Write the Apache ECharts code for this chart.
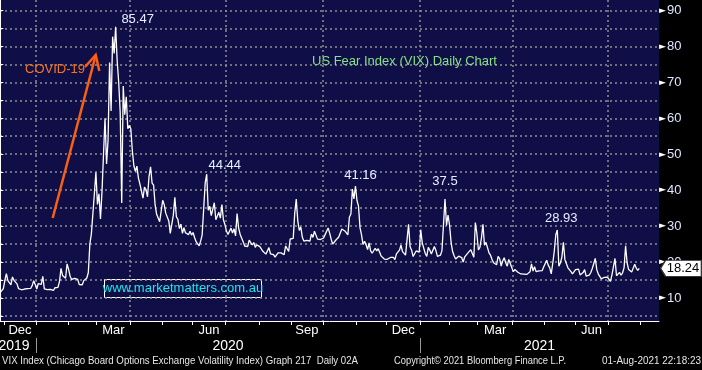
<!DOCTYPE html>
<html><head><meta charset="utf-8">
<script src="https://cdn.jsdelivr.net/npm/echarts@6/dist/echarts.min.js"></script>
<style>html,body{margin:0;padding:0;background:#000;}#c{width:702px;height:370px;}</style>
</head><body><div id="c"></div>
<script>
// ---- VIX daily values (trading days only) ----
const nov2019 = [11.54, 11.75, 12.62];
const dec2019 = [14.91,16.8,14.80,14.52,13.62, 15.86,14.91,14.99,13.94,12.63, 12.14,12.29,12.58,12.50,12.51, 12.61,12.67,12.65,13.43, 14.82,13.78];
const jan2020 = [12.47,14.02, 13.85,13.79,16.0,12.54,12.56, 12.32,12.39,12.42,12.32,12.10, 12.85,12.91,12.98,14.56, 18.23,16.28,16.39,15.49,19.5];
const feb2020 = [17.97,16.05,15.15,14.96,15.47, 15.04,15.18,13.74,14.15,13.68, 14.83,14.38,15.56,17.08, 25.03,27.85,27.56,39.16,45.0];
const mar2020 = [36.0,39.0,32.0,39.6,50.0, 60.0,47.3,53.9,75.5,62.0, 82.7,78.0,85.47,76.0,70.0, 61.6,36.4,69.0,61.0,66.0, 57.1,58.0];
const apr2020 = [57.06,50.91,46.80, 45.24,46.70,43.35,41.67, 41.17,37.76,40.84,40.11,38.15, 43.83,46.5,41.98,41.38,35.93, 33.29,33.57,31.23,34.15];
const may2020 = [37.19, 35.97,33.61,34.12,31.44,27.98, 27.57,33.04,38.0,32.61,31.89, 29.30,30.53,27.99,29.53,28.16, 27.91,27.62,28.59,27.51];
const jun2020 = [28.23,26.84,25.66,25.81,24.52, 25.81,27.57,27.57,42.0,44.44, 34.40,35.5,32.94,33.47,36.5, 31.77,31.37,33.84,32.22,36.0, 31.78,30.43];
const jul2020 = [28.62,27.68, 27.94,29.43,28.08,29.26,27.29, 33.5,29.52,27.76,28.00,25.68, 24.46,24.84,24.32,26.08,25.84, 24.74,25.44,24.10,24.76,24.46];
const aug2020 = [24.28,23.76,22.99,22.65,22.21, 22.13,24.03,22.28,22.13,22.05, 21.35,21.51,22.54,22.72,22.54, 22.37,22.03,24.47,24.47,22.96, 26.41];
const sep2020 = [26.12,26.57,33.60,37.5, 31.46,28.81,29.71,26.87, 25.85,25.59,26.04,26.46,25.83, 27.78,26.86,28.58,28.51,26.38, 26.19,26.27,26.37];
const oct2020 = [26.70,27.63, 27.96,29.48,28.06,26.36,25.00, 25.07,26.07,26.40,26.97,27.41, 29.18,29.35,28.65,28.11,27.55, 32.46,33.35,40.28,37.59,41.16];
const nov2020 = [37.13,35.55,29.57,27.58,24.86, 25.75,24.80,23.45,25.35,23.10, 22.45,22.71,23.84,23.11,23.70, 22.66,21.64,21.25,20.84, 20.57];
const dec2020 = [20.77,21.17,21.28,20.79, 21.30,20.68,22.27,22.52,23.31, 24.72,22.89,22.50,21.93,21.57, 30.5,24.23,23.31,21.53, 21.70,23.08,22.77,22.75];
const jan2021 = [29.0,25.34,25.07,22.37,21.56, 24.08,23.33,22.21,22.65,24.34, 23.24,21.58,21.32,21.91, 23.19,23.02,37.5,30.21,33.09];
const feb2021 = [30.24,25.56,22.91,21.77,20.87, 21.24,21.63,21.99,21.25,19.97, 21.46,21.50,22.49,22.05, 23.45,23.11,21.34,31.0,27.95];
const mar2021 = [23.35,24.10,26.67,30.5,24.66, 25.47,24.03,22.56,21.91,20.69, 19.79,19.79,19.23,21.58,20.95, 18.88,20.30,21.20,19.81,18.86, 20.74,19.61,19.40];
const apr2021 = [17.33, 17.91,18.12,17.16,16.95,16.69, 16.91,16.65,16.99,16.57,16.25, 17.29,19.5,17.50,18.71,17.33, 17.64,17.56,17.28,17.61,18.61];
const may2021 = [18.31,20.5,19.15,18.39,16.69, 19.66,23.0,27.59,28.93,18.81, 19.72,21.34,25.5,20.67,20.15, 18.40,18.84,17.36,16.74,16.76];
const jun2021 = [17.90,17.48,18.04,16.42, 16.42,17.07,17.89,16.10,15.65, 16.39,17.02,18.15,17.75,21.0, 17.89,16.66,16.32,15.3,14.9, 15.76,16.02,15.83];
const jul2021 = [15.48,14.6, 16.44,16.20,21.0,16.18, 16.17,17.12,16.33,17.01,18.45, 24.5,19.73,17.91,17.69,17.20, 17.58,19.36,18.31,17.70,18.24];

const firstDay = '2019-11-26';
const lastDay = '2021-07-30';
const holidays = ['2019-11-28','2019-12-25','2020-01-01','2020-01-20','2020-02-17','2020-04-10','2020-05-25','2020-07-03','2020-09-07','2020-11-26','2020-12-25','2021-01-01','2021-01-18','2021-02-15','2021-04-02','2021-05-31','2021-07-05'];

// labelled highs
const peakDates = ['2020-03-18','2020-06-12','2020-10-30','2021-01-27','2021-05-13'];
const peakValues = [85.47, 44.44, 41.16, 37.5, 28.93];

// axis texts
const yLabels = [10,20,30,40,50,60,70,80,90];
const yTicks = [5,10,15,20,25,30,35,40,45,50,55,60,65,70,75,80,85,90];
const monthNames = ['Jan','Feb','Mar','Apr','May','Jun','Jul','Aug','Sep','Oct','Nov','Dec'];
const labelledMonths = ['2019-12','2020-03','2020-06','2020-09','2020-12','2021-03','2021-06'];
const yearNames = ['2019','2020','2021'];

const title = 'US Fear Index (VIX) Daily Chart';
const covidText = 'COVID-19';
const siteText = 'www.marketmatters.com.au';
const footLeft = 'VIX Index (Chicago Board Options Exchange Volatility Index) Graph 217  Daily 02A';
const footMid = 'Copyright\u00a9 2021 Bloomberg Finance L.P.';
const footRight = '01-Aug-2021 22:18:23';

// ---- build ----
const vix = [].concat(nov2019,dec2019,jan2020,feb2020,mar2020,apr2020,may2020,jun2020,jul2020,aug2020,sep2020,oct2020,nov2020,dec2020,jan2021,feb2021,mar2021,apr2021,may2021,jun2021,jul2021);
const dates = [];
(function(){
  let t = Date.parse(firstDay+'T00:00:00Z'); const end = Date.parse(lastDay+'T00:00:00Z');
  while (t <= end) { const d = new Date(t); const w = d.getUTCDay(); const s = d.toISOString().slice(0,10);
    if (w !== 0 && w !== 6 && holidays.indexOf(s) < 0) dates.push(s); t += 86400000; }
})();
const seriesData = vix.map((v,i)=>[i,v]);

const monthStarts = [];
for (let i=1;i<dates.length;i++){ if (dates[i].slice(0,7)!==dates[i-1].slice(0,7)) monthStarts.push({key:dates[i].slice(0,7), pos:i-0.5}); }
monthStarts.push({key:'2021-08', pos:dates.length-0.5});
const xMin = -0.2, xMax = 434;
const monthTickPos = monthStarts.map(o=>o.pos);
const monthLabelPos = []; const monthLabelText = {};
labelledMonths.forEach(k=>{
  const idx = monthStarts.findIndex(o=>o.key===k);
  const a = monthStarts[idx].pos, b = monthStarts[idx+1].pos;
  const p = +((a+b)/2).toFixed(2);
  monthLabelPos.push(p); monthLabelText[p] = monthNames[+k.slice(5,7)-1];
});
const quarterPos = monthStarts.filter(o=>['01','04','07','10'].indexOf(o.key.slice(5,7))>=0).map(o=>o.pos);
const yearPos = monthStarts.filter(o=>o.key.slice(5,7)==='01').map(o=>o.pos);
const yearLabelPos = [9, +((yearPos[0]+yearPos[1])/2).toFixed(2), +((yearPos[1]+xMax)/2).toFixed(2)];
const yearLabelText = {}; yearLabelPos.forEach((p,i)=>yearLabelText[p]=yearNames[i]);

const peakOffsets = [[22,-7],[18,-9],[5,-11],[0,-18],[4,-12]];
const peakMarks = peakDates.map((d,i)=>({
  coord:[dates.indexOf(d), peakValues[i]], value: peakValues[i],
  symbol:'circle', symbolSize:1, itemStyle:{color:'rgba(0,0,0,0)'},
  label:{show:true,position:'inside',offset:peakOffsets[i],formatter:String(peakValues[i])}
}));
const lastVal = vix[vix.length-1];

const NAVY = '#0f0e47';
const GRID = '#8e8e8e';
const sans = '"Liberation Sans",Arial,sans-serif';

// horizontal squeeze for the condensed Bloomberg-style footer font
const ctx = document.createElement('canvas').getContext('2d');
function squeeze(text, font, width){ ctx.font = font; return width / ctx.measureText(text).width; }
const footFont = '11px "Liberation Sans",Arial,sans-serif';

const chart = echarts.init(document.getElementById('c'), null, {renderer:'canvas'});
chart.setOption({
  animation:false,
  backgroundColor:'#000',
  grid:{left:0,right:43,top:0,bottom:49,show:true,backgroundColor:NAVY,borderWidth:0,outerBoundsMode:'none',containLabel:false},
  xAxis:[{
    type:'value', min:xMin, max:xMax, position:'bottom',
    axisLine:{show:true,lineStyle:{color:'#fff',width:1}},
    axisTick:{show:true,customValues:monthTickPos,length:4,lineStyle:{color:'#fff'}},
    axisLabel:{show:true,customValues:monthLabelPos,margin:3,color:'#fff',fontSize:13,fontFamily:sans,
      formatter:v=>monthLabelText[+(+v).toFixed(2)]||''},
    splitLine:{show:false}
  },{
    type:'value', min:xMin, max:xMax, position:'bottom', offset:17,
    axisLine:{show:false},
    axisTick:{show:true,customValues:yearPos,length:15,lineStyle:{color:'#9a9a9a'}},
    axisLabel:{show:true,customValues:yearLabelPos,margin:1,color:'#fff',fontSize:14,fontFamily:sans,
      formatter:v=>yearLabelText[+(+v).toFixed(2)]||''},
    splitLine:{show:false}
  },{
    type:'value', min:xMin, max:xMax, position:'top',
    axisLine:{show:false}, axisLabel:{show:false},
    axisTick:{show:false,customValues:quarterPos},
    splitLine:{show:true,lineStyle:{color:GRID,type:[2,3],width:1.5}}
  }],
  yAxis:{
    type:'value', position:'right', min:3.6, max:92.9,
    axisLine:{show:true,lineStyle:{color:'#fff',width:1}},
    axisTick:{show:true,customValues:yTicks,length:3,lineStyle:{color:'#fff'}},
    axisLabel:{show:true,customValues:yLabels,margin:0,
      formatter:v=>'{t|\u25BA}{v|'+v+'}',
      rich:{t:{fontSize:9,color:'#fff',fontFamily:'"DejaVu Sans"',padding:[0,1,0,0]},
            v:{fontSize:13,color:'#dfe7ff',fontFamily:sans}}},
    splitLine:{show:true,lineStyle:{color:GRID,type:[2,3],width:1.5}}
  },
  series:[{
    type:'line', data:seriesData, xAxisIndex:0, yAxisIndex:0,
    showSymbol:false, symbol:'none', z:3,
    lineStyle:{color:'#fff',width:1.3},
    markPoint:{silent:true, z:6,
      label:{color:'#e6eeff',fontSize:13,fontFamily:sans},
      data: peakMarks.concat([{coord:[xMax,lastVal], value:lastVal,
          symbol:'path://M0,8 L5,0 L41,0 L41,16 L5,16 Z', symbolSize:[41,16], symbolKeepAspect:false,
          symbolOffset:[22,0], itemStyle:{color:'#fff',borderColor:'#333',borderWidth:1},
          label:{show:true,position:'inside',offset:[2,0],color:'#000',fontSize:13,fontFamily:sans,formatter:String(lastVal)}}])
    }
  }],
  graphic:[
    {type:'text', left:312, top:55, z:20, style:{text:title, fill:'#84e184', font:'13px '+sans}},
    {type:'text', left:25, top:63, z:20, style:{text:covidText, fill:'#f5731a', font:'13px '+sans}},
    {type:'line', z:20, shape:{x1:52.7,y1:218,x2:95.5,y2:56}, style:{stroke:'#fa5f12',lineWidth:2.5}},
    {type:'polyline', z:20, shape:{points:[[85,67],[95.7,55],[99.3,71]]}, style:{stroke:'#fa5f12',lineWidth:2.5,fill:null}},
    {type:'group', z:20, children:[
      {type:'rect', shape:{x:104.5,y:279.5,width:157,height:18}, style:{fill:NAVY,stroke:'#fff',lineWidth:1}},
      {type:'text', x:183, y:288.5, style:{text:siteText, fill:'#1de6ea', font:'13px '+sans, align:'center', verticalAlign:'middle'}}
    ]},
    {type:'text', x:2, y:361, z:20, scaleX:squeeze(footLeft,footFont,356), style:{text:footLeft, fill:'#e6e6e6', font:footFont, verticalAlign:'middle'}},
    {type:'text', x:394, y:361, z:20, scaleX:squeeze(footMid,footFont,172), style:{text:footMid, fill:'#e6e6e6', font:footFont, verticalAlign:'middle'}},
    {type:'text', x:701, y:361, z:20, scaleX:squeeze(footRight,footFont,99), style:{text:footRight, fill:'#e6e6e6', font:footFont, align:'right', verticalAlign:'middle'}}
  ]
});
</script></body></html>
